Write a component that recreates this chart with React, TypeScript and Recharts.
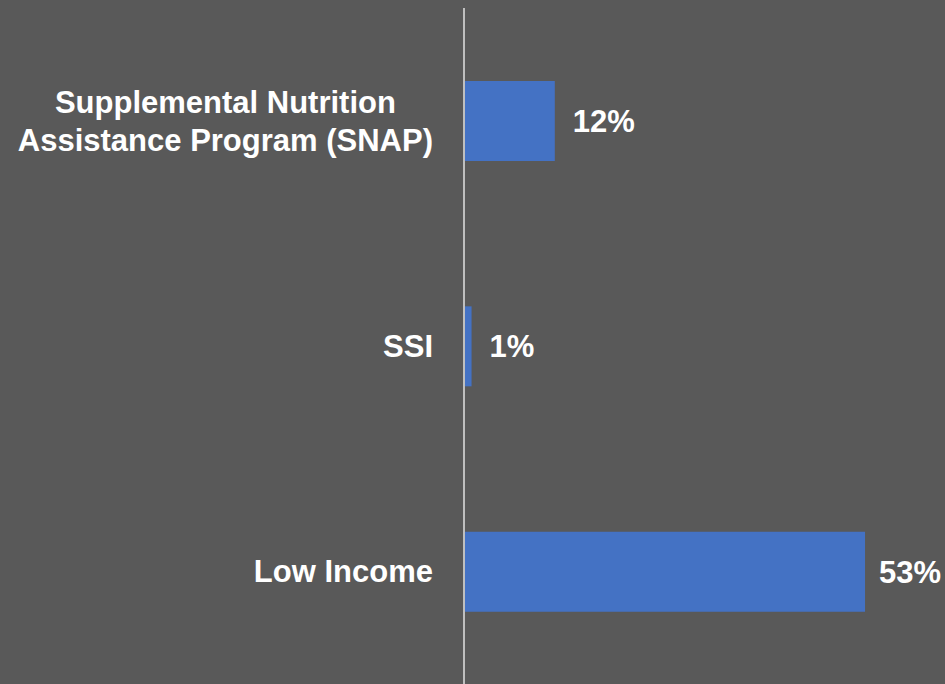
import { BarChart, Bar, XAxis, YAxis, LabelList } from 'recharts';

const categories = ['Supplemental Nutrition\nAssistance Program (SNAP)', 'SSI', 'Low Income'];
const shares = [12, 1, 53];

const data = categories.map((c, i) => ({ name: c, value: shares[i] }));

const FONT = "'Liberation Sans', Arial, sans-serif";
const FONT_SIZE = 31;
const CHART_W = 945;

let ctx: CanvasRenderingContext2D | null = null;
function measure(text: string): number {
  if (!ctx) ctx = document.createElement('canvas').getContext('2d');
  if (!ctx) return text.length * FONT_SIZE * 0.55;
  ctx.font = `bold ${FONT_SIZE}px ${FONT}`;
  return ctx.measureText(text).width;
}

function CategoryTick(props: any) {
  const { x, y, payload } = props;
  const lines: string[] = String(payload.value).split('\n');
  const widths = lines.map(measure);
  const maxW = Math.max(...widths);
  const right = x - 23;
  const center = right - maxW / 2;
  const lineH = 38;
  const startY = y - ((lines.length - 1) * lineH) / 2;
  return (
    <g>
      {lines.map((l, i) => (
        <text
          key={i}
          x={lines.length > 1 ? center : right}
          y={startY + i * lineH}
          dy="0.35em"
          textAnchor={lines.length > 1 ? 'middle' : 'end'}
          fill="#FFFFFF"
          fontFamily={FONT}
          fontWeight="bold"
          fontSize={FONT_SIZE}
        >
          {l}
        </text>
      ))}
    </g>
  );
}

// value label to the right of the bar, pulled back in if it would run off the edge
function ValueLabel(props: any) {
  const { x, y, width, height, value } = props;
  const txt = `${value}%`;
  const w = measure(txt);
  let lx = x + width + 18;
  if (lx + w > CHART_W - 4) lx = CHART_W - 4 - w;
  return (
    <text
      x={lx}
      y={y + height / 2}
      dy="0.35em"
      fill="#FFFFFF"
      fontFamily={FONT}
      fontWeight="bold"
      fontSize={FONT_SIZE}
    >
      {txt}
    </text>
  );
}

export default function App() {
  return (
    <div style={{ position: 'absolute', left: 0, top: 0, width: CHART_W, height: 684, background: '#595959' }}>
      <BarChart
        width={CHART_W}
        height={684}
        data={data}
        layout="vertical"
        margin={{ top: 8, right: 27, left: 0, bottom: 0 }}
        barCategoryGap={0}
      >
        <XAxis type="number" domain={[0, 60]} hide />
        <YAxis
          type="category"
          dataKey="name"
          width={464}
          axisLine={{ stroke: '#BFBFBF', strokeWidth: 2 }}
          tickLine={false}
          tick={<CategoryTick />}
          interval={0}
        />
        <Bar dataKey="value" fill="#4472C4" barSize={80} isAnimationActive={false}>
          <LabelList dataKey="value" content={<ValueLabel />} />
        </Bar>
      </BarChart>
    </div>
  );
}
